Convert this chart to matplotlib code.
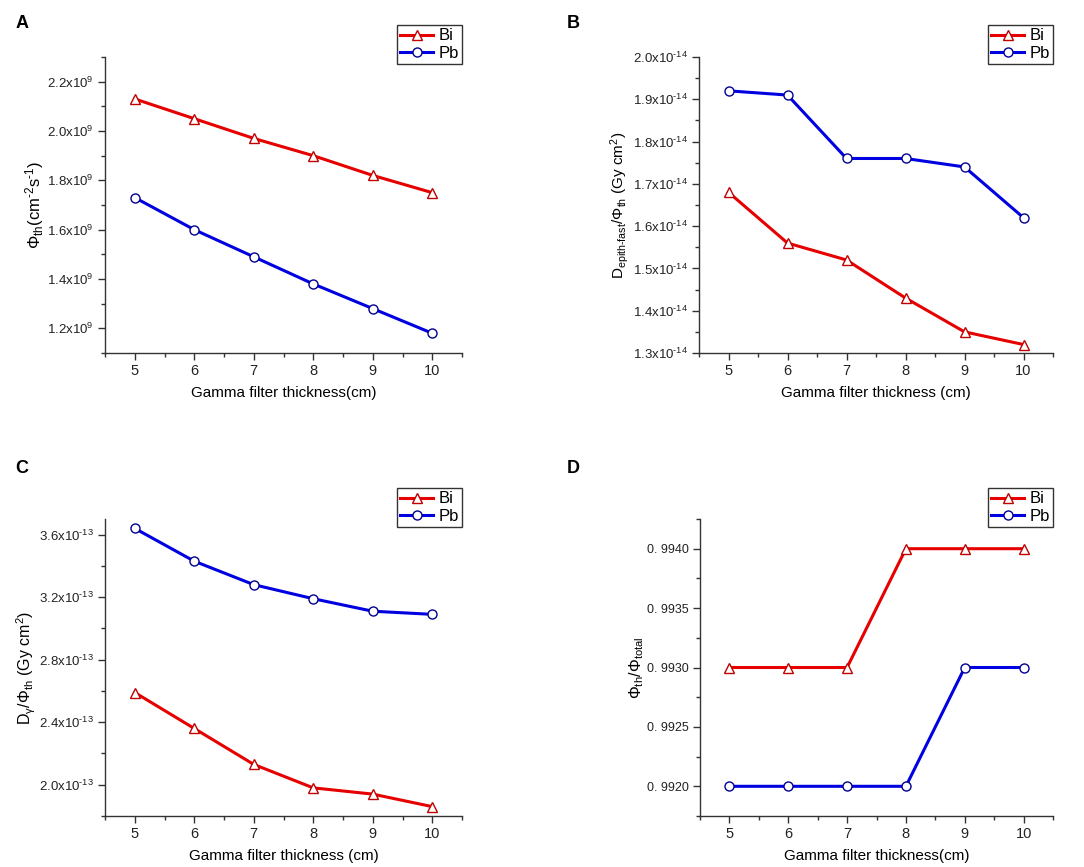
import matplotlib
matplotlib.use("Agg")
import matplotlib.pyplot as plt
from matplotlib.ticker import MultipleLocator, FuncFormatter

plt.rcParams['font.family'] = ['Liberation Sans', 'DejaVu Sans']
plt.rcParams['mathtext.fontset'] = 'custom'
plt.rcParams['mathtext.rm'] = 'Liberation Sans'
plt.rcParams['mathtext.it'] = 'Liberation Sans'
plt.rcParams['mathtext.default'] = 'regular'

thickness = [5, 6, 7, 8, 9, 10]

# A: thermal flux (x1e9 cm^-2 s^-1)
flux_bi = [2.13, 2.05, 1.97, 1.90, 1.82, 1.75]
flux_pb = [1.73, 1.60, 1.49, 1.38, 1.28, 1.18]

# B: epithermal+fast dose per thermal flux (x1e-14 Gy cm^2)
dfast_bi = [1.68, 1.56, 1.52, 1.43, 1.35, 1.32]
dfast_pb = [1.92, 1.91, 1.76, 1.76, 1.74, 1.62]

# C: gamma dose per thermal flux (x1e-13 Gy cm^2)
dgam_bi = [2.59, 2.36, 2.13, 1.98, 1.94, 1.86]
dgam_pb = [3.64, 3.43, 3.28, 3.19, 3.11, 3.09]

# D: thermal / total flux ratio
ratio_bi = [0.9930, 0.9930, 0.9930, 0.9940, 0.9940, 0.9940]
ratio_pb = [0.9920, 0.9920, 0.9920, 0.9920, 0.9930, 0.9930]

RED = '#e60000'
BLUE = '#0000e0'

fig = plt.figure(figsize=(10.84, 8.67), dpi=100)
W, H = 1084, 867


def make_axes(left, top, right, bottom):
    return fig.add_axes([left / W, 1 - bottom / H, (right - left) / W, (bottom - top) / H])


def sci_fmt(exp):
    sign = r'\text{-}' if exp < 0 else ''
    return FuncFormatter(lambda v, p: '%.1fx10$^{%s%d}$' % (v, sign, abs(exp)))


def style(ax, ylab, xlab, ylim, ymaj, ymin, fmt, leg_y, tick_fs=9.5, ylab_fs=11.5):
    ax.plot(thickness, ylim[2], color=RED, lw=2.2, marker='^', ms=7,
            mfc='white', mec='#c00000', mew=1.0, label='Bi')
    ax.plot(thickness, ylim[3], color=BLUE, lw=2.2, marker='o', ms=6.5,
            mfc='white', mec='#000090', mew=1.0, label='Pb')
    ax.set_xlim(4.5, 10.5)
    ax.set_ylim(ylim[0], ylim[1])
    ax.xaxis.set_major_locator(MultipleLocator(1))
    ax.xaxis.set_minor_locator(MultipleLocator(0.5))
    ax.yaxis.set_major_locator(MultipleLocator(ymaj))
    ax.yaxis.set_minor_locator(MultipleLocator(ymin))
    ax.yaxis.set_major_formatter(fmt)
    for s in ['top', 'right']:
        ax.spines[s].set_visible(False)
    for s in ['left', 'bottom']:
        ax.spines[s].set_linewidth(1.0)
        ax.spines[s].set_color('#333333')
    ax.tick_params(which='major', direction='out', length=5, width=1, pad=3,
                   labelsize=tick_fs, colors='#333333', labelcolor='#222222')
    ax.tick_params(axis='x', which='major', labelsize=10.5)
    ax.tick_params(which='minor', direction='out', length=3, width=1, colors='#333333')
    ax.set_xlabel(xlab, fontsize=11, labelpad=6)
    ax.set_ylabel(ylab, fontsize=ylab_fs, labelpad=1)
    leg = ax.legend(loc='upper right', bbox_to_anchor=(1.0, leg_y), borderaxespad=0,
                    fancybox=False, edgecolor='#333333', fontsize=12, handlelength=2.0,
                    handletextpad=0.3, borderpad=0.2, labelspacing=0.15, framealpha=1)
    leg.get_frame().set_linewidth(1.0)


axA = make_axes(105, 57, 462, 353)
style(axA, r'$\Phi_{th}$(cm$^{\text{-}2}$s$^{\text{-}1}$)', 'Gamma filter thickness(cm)',
      (1.1, 2.3, flux_bi, flux_pb), 0.2, 0.1, sci_fmt(9), 1.108, ylab_fs=12)

axB = make_axes(699, 57, 1053, 353)
style(axB, r'D$_{epith\text{-}fast}$/$\Phi_{th}$ (Gy cm$^2$)', 'Gamma filter thickness (cm)',
      (1.3, 2.0, dfast_bi, dfast_pb), 0.1, 0.05, sci_fmt(-14), 1.108, ylab_fs=11)

axC = make_axes(105, 519, 462, 816)
style(axC, r'D$_\gamma$/$\Phi_{th}$ (Gy cm$^2$)', 'Gamma filter thickness (cm)',
      (1.8, 3.7, dgam_bi, dgam_pb), 0.4, 0.2, sci_fmt(-13), 1.104, ylab_fs=11.5)

axD = make_axes(700, 519, 1053, 816)
style(axD, r'$\Phi_{th}$/$\Phi_{total}$', 'Gamma filter thickness(cm)',
      (0.99175, 0.99425, ratio_bi, ratio_pb), 0.0005, 0.00025,
      FuncFormatter(lambda v, p: '0. %04d' % round(v * 10000)), 1.104,
      tick_fs=9, ylab_fs=11.5)

for lab, x, y in [('A', 22, 23), ('B', 573, 23), ('C', 22, 468), ('D', 573, 468)]:
    fig.text(x / W, 1 - y / H, lab, fontsize=13, fontweight='bold', ha='center', va='center')

fig.savefig('out.png', dpi=100)
